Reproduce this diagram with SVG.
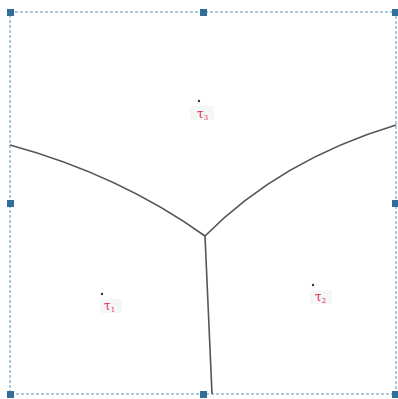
<svg xmlns="http://www.w3.org/2000/svg" width="398" height="399" viewBox="0 0 398 399">
<style>
.frame{fill:#fff;stroke:#5a8fb8;stroke-width:1;stroke-dasharray:3,2}
.h{fill:#2f6f9a}
.edge{fill:none;stroke:#555;stroke-width:1.6}
.dot{fill:#333}
.lbl{font-family:"DejaVu Serif",serif;font-size:12px;fill:#e0304a}
.sub{font-size:7px}
.lb{fill:#f4f6f8}
</style>
<rect class="frame" x="10" y="12" width="386" height="382"/>
<g id="connectors">
<path class="edge" d="M10,145 Q120,175 205,236"/>
<path class="edge" d="M396,125 Q280,160 205,236"/>
<path class="edge" d="M205,236 Q208,310 212,394"/>
</g>
<g id="t3">
<rect class="lb" x="190" y="106" width="24" height="14"/>
<circle class="dot" cx="199" cy="101" r="1.2"/>
<text class="lbl" x="197" y="118">τ<tspan class="sub" dy="2">3</tspan></text>
</g>
<g id="t1">
<rect class="lb" x="100" y="299" width="22" height="14"/>
<circle class="dot" cx="102" cy="294" r="1.2"/>
<text class="lbl" x="104" y="310">τ<tspan class="sub" dy="2">1</tspan></text>
</g>
<g id="t2">
<rect class="lb" x="310" y="290" width="22" height="14"/>
<circle class="dot" cx="313" cy="285" r="1.2"/>
<text class="lbl" x="315" y="301">τ<tspan class="sub" dy="2">2</tspan></text>
</g>
<g id="handles">
<rect class="h" x="7" y="9" width="7" height="7"/>
<rect class="h" x="200" y="9" width="7" height="7"/>
<rect class="h" x="392" y="9" width="7" height="7"/>
<rect class="h" x="7" y="200" width="7" height="7"/>
<rect class="h" x="392" y="200" width="7" height="7"/>
<rect class="h" x="7" y="391" width="7" height="7"/>
<rect class="h" x="200" y="391" width="7" height="7"/>
<rect class="h" x="392" y="391" width="7" height="7"/>
</g>
</svg>
